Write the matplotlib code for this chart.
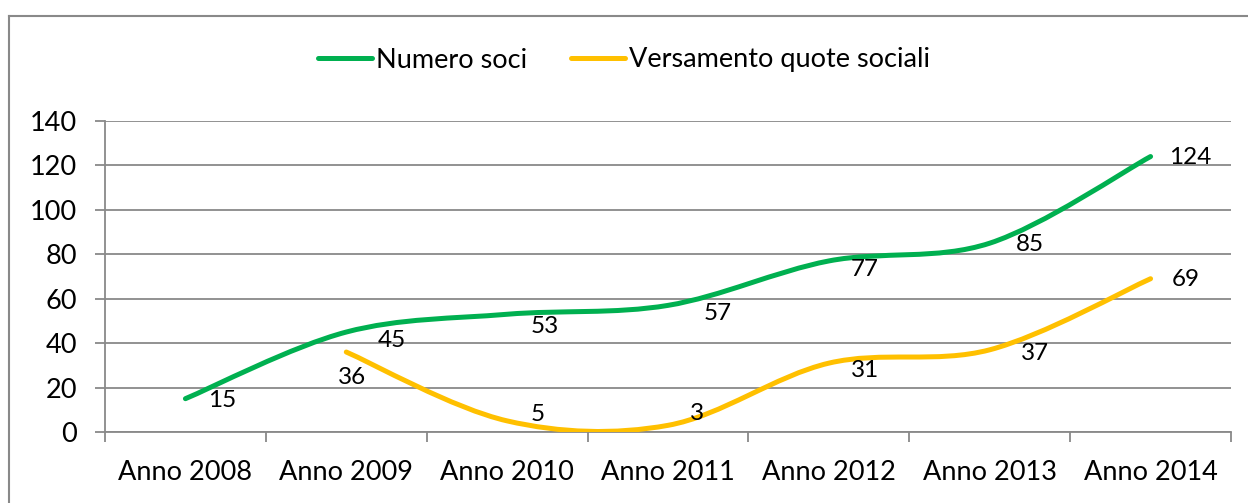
import numpy as np
import matplotlib.pyplot as plt
from matplotlib.path import Path
from matplotlib.patches import PathPatch
from matplotlib.lines import Line2D

# === data ===
anni = ['Anno 2008', 'Anno 2009', 'Anno 2010', 'Anno 2011', 'Anno 2012', 'Anno 2013', 'Anno 2014']
numero_soci = [15, 45, 53, 57, 77, 85, 124]
versamento_quote = [np.nan, 36, 5, 3, 31, 37, 69]

# label offsets (pixels) relative to the point
off_soci = [(37, -2), (46, -8), (38, -12), (50, -8), (36, -9), (40, -1), (40, -1)]
off_quote = [None, (6, -25), (31, 6), (29, 12), (36, -7), (45, -4), (35, -1)]

green = '#00B050'
yellow = '#FFC000'
grey = '#898989'

plt.rcParams['font.family'] = ['Lato', 'DejaVu Sans']
fs = 19.5


def smooth_path(xs, ys):
    # excel-like smoothing: bezier with catmull-rom control points
    p = np.column_stack([xs, ys]).astype(float)
    n = len(p)
    verts = [p[0]]
    codes = [Path.MOVETO]
    for i in range(n - 1):
        p0 = p[i - 1] if i > 0 else p[i]
        p3 = p[i + 2] if i + 2 < n else p[i + 1]
        c1 = p[i] + (p[i + 1] - p0) / 6
        c2 = p[i + 1] - (p3 - p[i]) / 6
        verts += [c1, c2, p[i + 1]]
        codes += [Path.CURVE4] * 3
    return Path(verts, codes)


fig = plt.figure(figsize=(12.48, 5.03), dpi=100)
ax = fig.add_axes([105 / 1248, 1 - 432 / 503, 1126 / 1248, 311 / 503])

x = np.arange(len(anni))
series = [(numero_soci, green, 'Numero soci', off_soci),
          (versamento_quote, yellow, 'Versamento quote sociali', off_quote)]

handles = []
for vals, col, name, offs in series:
    v = np.array(vals, dtype=float)
    ok = ~np.isnan(v)
    path = smooth_path(x[ok], v[ok])
    ax.add_patch(PathPatch(path, facecolor='none', edgecolor=col, lw=3.6,
                           capstyle='round', joinstyle='round', zorder=3))
    for xi, yi, o in zip(x, v, offs):
        if np.isnan(yi):
            continue
        ax.annotate(f'{int(yi)}', (xi, yi), xytext=o, textcoords='offset pixels',
                    ha='center', va='center', fontsize=17.5, color='black', zorder=4)
    handles.append(Line2D([], [], color=col, lw=3.6, solid_capstyle='round', label=name))

ax.set_xlim(-0.5, len(anni) - 0.5)
ax.set_ylim(0, 140)
ax.set_yticks(range(0, 141, 20))
ax.yaxis.grid(True, color=grey, lw=1.3)
ax.set_axisbelow(True)

ax.set_xticks(np.arange(-0.5, len(anni), 1))
ax.set_xticklabels([])
ax.set_xticks(x, minor=True)
ax.set_xticklabels(anni, minor=True)
ax.tick_params(axis='x', which='major', length=7, width=1.3, color=grey, direction='out')
ax.tick_params(axis='x', which='minor', length=0, pad=20, labelsize=fs)
ax.tick_params(axis='y', length=7, width=1.3, color=grey, pad=13, labelsize=fs)

for s in ['top', 'right']:
    ax.spines[s].set_visible(False)
for s in ['left', 'bottom']:
    ax.spines[s].set_color(grey)
    ax.spines[s].set_linewidth(1.3)

fig.legend(handles=handles, loc='center', bbox_to_anchor=(0.5, 1 - 60 / 503), ncol=2,
           frameon=False, fontsize=fs, handlelength=2.0, handletextpad=0.15, columnspacing=1.6)

# chart frame
fx, fy = 9 / 1248, 1 - 16 / 503
fig.add_artist(Line2D([fx, fx], [0, fy], color=grey, lw=1.5, transform=fig.transFigure))
fig.add_artist(Line2D([fx, 1], [fy, fy], color=grey, lw=1.5, transform=fig.transFigure))

plt.savefig('out.png', dpi=100)
